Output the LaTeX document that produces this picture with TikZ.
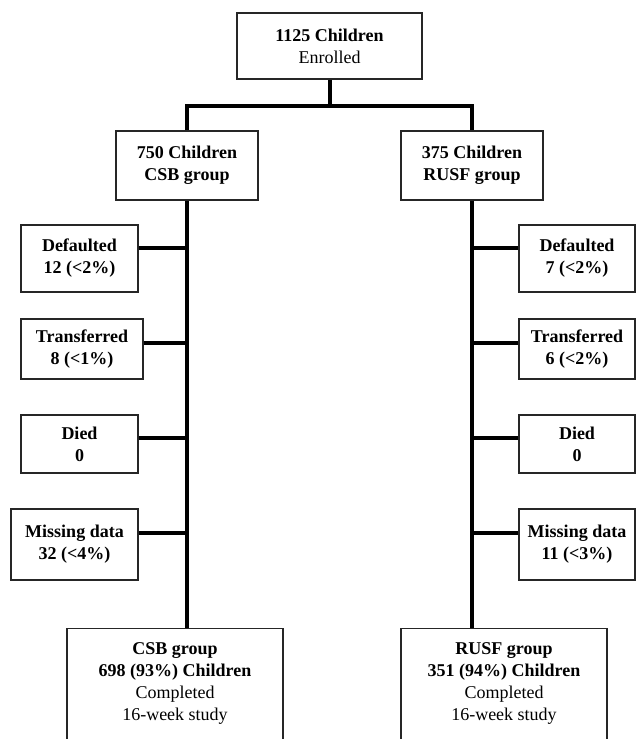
\documentclass[tikz,border=0pt]{standalone}
\usepackage{fontspec}
\setmainfont{Liberation Serif}
\usetikzlibrary{positioning}

\begin{document}
\begin{tikzpicture}[
    x=1pt, y=-1pt,
    every node/.style={font=\fontsize{18}{22}\selectfont},
    box/.style={draw=black!85,line width=1.3pt,fill=white,align=center,inner sep=0pt},
    side/.style={box,minimum width=117pt},
    final/.style={box,anchor=north,inner ysep=14pt,text depth=40pt},
    conn/.style={line width=4pt}
]
\useasboundingbox (0,0) rectangle (636,739);
\clip (0,0) rectangle (636,739);

% Enrolment
\node[box,minimum width=185pt,minimum height=66pt] (enrol) at (329.5,46) {\textbf{1125 Children}\\Enrolled};

% Two arms
\node[box,minimum width=142pt,minimum height=69pt] (csb)  at (187,165.5) {\textbf{750 Children}\\\textbf{CSB group}};
\node[box,minimum width=142pt,minimum height=69pt] (rusf) at (472,165.5) {\textbf{375 Children}\\\textbf{RUSF group}};

% Losses, CSB arm
\node[side,minimum height=67pt] (dl) at (79.5,258.5) {\textbf{Defaulted}\\\textbf{12 (<2\%)}};
\node[side,minimum width=122pt,minimum height=60pt] (tl) at (82,349) {\textbf{Transferred}\\\textbf{8 (<1\%)}};
\node[side,minimum height=58pt] (xl) at (79.5,444) {\textbf{Died}\\\textbf{0}};
\node[side,minimum width=127pt,minimum height=71pt] (ml) at (74.5,544.5) {\textbf{Missing data}\\\textbf{32 (<4\%)}};

% Losses, RUSF arm
\node[side,minimum width=116pt,minimum height=67pt] (dr) at (577,258.5) {\textbf{Defaulted}\\\textbf{7 (<2\%)}};
\node[side,minimum width=116pt,minimum height=60pt] (tr) at (577,349) {\textbf{Transferred}\\\textbf{6 (<2\%)}};
\node[side,minimum width=116pt,minimum height=58pt] (xr) at (577,444) {\textbf{Died}\\\textbf{0}};
\node[side,minimum width=116pt,minimum height=71pt] (mr) at (577,544.5) {\textbf{Missing data}\\\textbf{11 (<3\%)}};

% Completers
\node[final,minimum width=216pt] (csbend)  at (175,628) {\textbf{CSB group}\\\textbf{698 (93\%) Children}\\Completed\\16-week study};
\node[final,minimum width=206pt] (rusfend) at (504,628) {\textbf{RUSF group}\\\textbf{351 (94\%) Children}\\Completed\\16-week study};

% Split into arms
\coordinate (split) at (329.5,106);
\draw[conn] (enrol.south) -- (split);
\draw[conn] (csb.north) |- (split) -| (rusf.north);

% Trunks
\draw[conn] (csb.south)  -- (csb.south |- csbend.north);
\draw[conn] (rusf.south) -- (rusf.south |- rusfend.north);

% Branches to losses
\foreach \n/\dy in {dl/10.5,tl/6,xl/6,ml/11.5}
    \draw[conn] ([yshift=\dy pt]\n.east) -- ([yshift=\dy pt]\n.east -| csb.south);
\foreach \n/\dy in {dr/10.5,tr/6,xr/6,mr/11.5}
    \draw[conn] ([yshift=\dy pt]\n.west) -- ([yshift=\dy pt]\n.west -| rusf.south);

\end{tikzpicture}
\end{document}
